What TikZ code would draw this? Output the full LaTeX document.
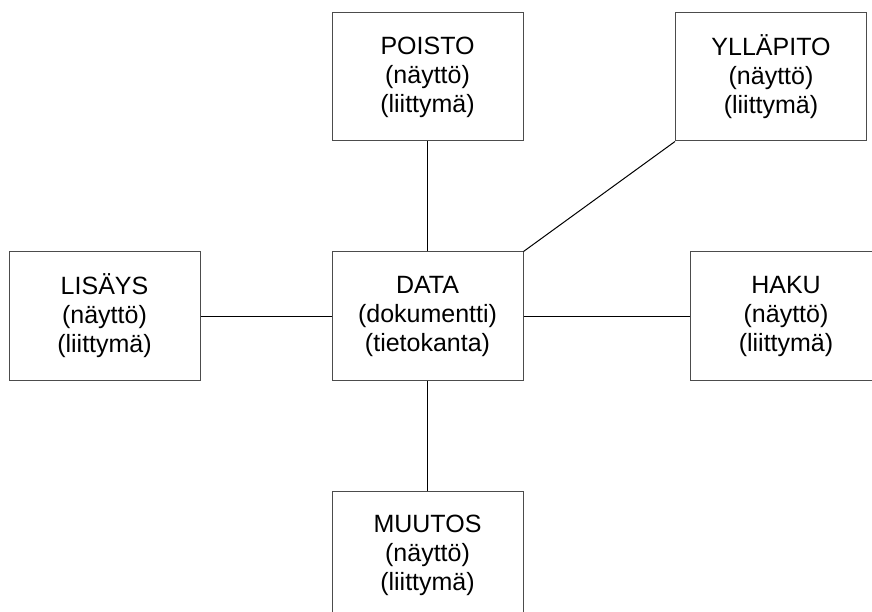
\documentclass[tikz,border=0pt]{standalone}
\usepackage{fontspec}
\setmainfont{Liberation Sans}
\usepackage{tikz}

\begin{document}
\begin{tikzpicture}[x=1pt,y=-1pt,
    osa/.style={draw=black!70,line width=1pt,fill=white,minimum width=191pt,
        minimum height=128pt,inner sep=0pt,align=center,
        font=\fontsize{25}{29}\selectfont},
    yhteys/.style={line width=1pt}]
    % Fix the page size
    \useasboundingbox (0,0) rectangle (872,612);
    \clip (0,0) rectangle (872,612);

    % Draw the boxes
    \node[osa] (data) at (427.5,316) {DATA\\(dokumentti)\\(tietokanta)};
    \node[osa] (poisto) at (427.5,77) {POISTO\\(näyttö)\\(liittymä)};
    \node[osa] (yllapito) at (771,77) {YLLÄPITO\\(näyttö)\\(liittymä)};
    \node[osa] (lisays) at (104.5,316) {LISÄYS\\(näyttö)\\(liittymä)};
    \node[osa] (haku) at (786,316) {HAKU\\(näyttö)\\(liittymä)};
    \node[osa] (muutos) at (427.5,555) {MUUTOS\\(näyttö)\\(liittymä)};

    % Connect the boxes to the data
    \draw[yhteys] (poisto.south) -- (data.north);
    \draw[yhteys] (yllapito.south west) -- (data.north east);
    \draw[yhteys] (lisays.east) -- (data.west);
    \draw[yhteys] (data.east) -- (haku.west);
    \draw[yhteys] (data.south) -- (muutos.north);
\end{tikzpicture}
\end{document}
